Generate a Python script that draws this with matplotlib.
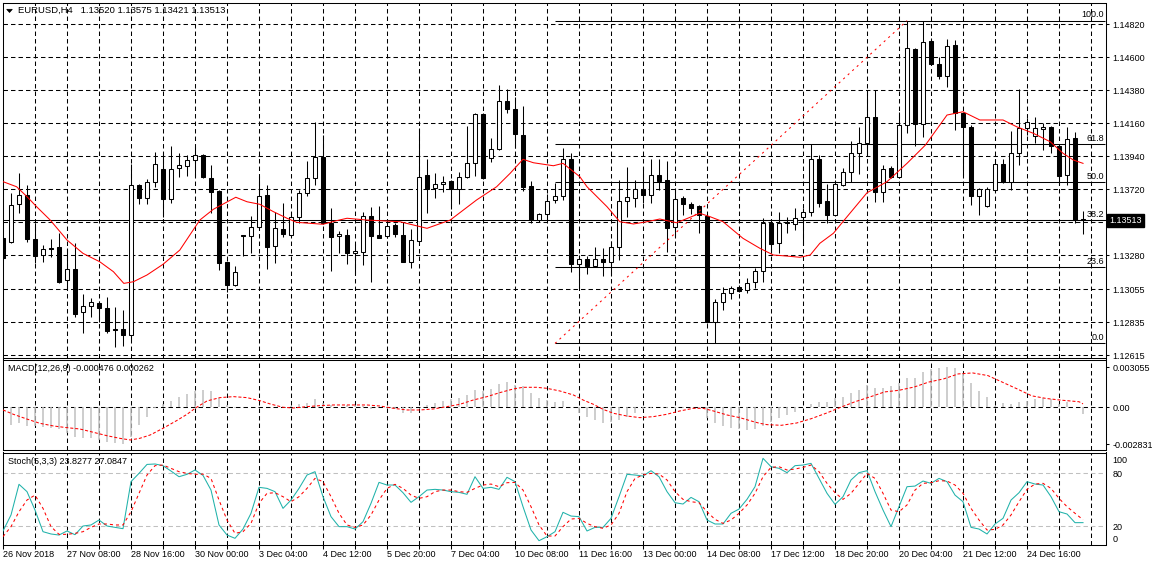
import matplotlib
matplotlib.use("Agg")
import matplotlib.pyplot as plt
from matplotlib.patches import Rectangle, Polygon

# EURUSD H4 candles (bar 0 = 26 Nov 2018 00:00)
opens = [1.13395, 1.13367, 1.13620, 1.13682, 1.13389, 1.13282, 1.13330, 1.13333, 1.13113, 1.13189,
         1.12900, 1.12942, 1.12962, 1.12927, 1.12789, 1.12791, 1.12747, 1.13747, 1.13664, 1.13771,
         1.13853, 1.13653, 1.13860, 1.13877, 1.13913, 1.13947, 1.13793, 1.13709, 1.13233, 1.13082,
         1.13415, 1.13411, 1.13467, 1.13682, 1.13340, 1.13455, 1.13415, 1.13533, 1.13693, 1.13793,
         1.13937, 1.13493, 1.13407, 1.13415, 1.13293, 1.13300, 1.13542, 1.13415, 1.13407, 1.13482,
         1.13415, 1.13233, 1.13375, 1.13815, 1.13727, 1.13753, 1.13775, 1.13722, 1.13800, 1.13897,
         1.14220, 1.13927, 1.13987, 1.14309, 1.14253, 1.14082, 1.13742, 1.13515, 1.13555, 1.13649,
         1.13677, 1.13920, 1.13220, 1.13253, 1.13211, 1.13253, 1.13233, 1.13337, 1.13644, 1.13660,
         1.13720, 1.13682, 1.13815, 1.13782, 1.13467, 1.13660, 1.13622, 1.13609, 1.13544, 1.12833,
         1.12967, 1.13027, 1.13071, 1.13049, 1.13100, 1.13175, 1.13497, 1.13360, 1.13500, 1.13489,
         1.13537, 1.13571, 1.13920, 1.13642, 1.13549, 1.13749, 1.13837, 1.13960, 1.14027, 1.14200,
         1.13704, 1.13860, 1.13804, 1.14147, 1.14655, 1.14153, 1.14709, 1.14553, 1.14477, 1.14682,
         1.14231, 1.14137, 1.13677, 1.13609, 1.13715, 1.13889, 1.13771, 1.13960, 1.14127, 1.14075,
         1.14120, 1.14135, 1.14011, 1.13815, 1.14060, 1.13520]
highs = [1.13402, 1.13693, 1.13829, 1.13749, 1.13493, 1.13349, 1.13387, 1.13427, 1.13327, 1.13364,
         1.13022, 1.12993, 1.12975, 1.13004, 1.12937, 1.12915, 1.13887, 1.13755, 1.13789, 1.13967,
         1.13960, 1.14009, 1.13964, 1.13949, 1.14004, 1.13955, 1.13882, 1.13715, 1.13240, 1.13211,
         1.13418, 1.13544, 1.13809, 1.13749, 1.13571, 1.13627, 1.13567, 1.13715, 1.13911, 1.14171,
         1.14082, 1.13593, 1.13442, 1.13453, 1.13355, 1.13571, 1.13604, 1.13611, 1.13504, 1.13493,
         1.13504, 1.13453, 1.14127, 1.13920, 1.13829, 1.13809, 1.13780, 1.13835, 1.14142, 1.14231,
         1.14227, 1.14060, 1.14415, 1.14387, 1.14333, 1.14275, 1.13775, 1.13562, 1.13689, 1.13764,
         1.13993, 1.13960, 1.13282, 1.13275, 1.13333, 1.13327, 1.13375, 1.13782, 1.13871, 1.13782,
         1.13871, 1.13920, 1.13920, 1.13909, 1.13727, 1.13675, 1.13637, 1.13615, 1.13555, 1.12987,
         1.13067, 1.13075, 1.13082, 1.13127, 1.13193, 1.13527, 1.13504, 1.13571, 1.13537, 1.13593,
         1.13595, 1.14020, 1.13949, 1.13755, 1.13782, 1.13864, 1.14044, 1.14137, 1.14382, 1.14382,
         1.13882, 1.13877, 1.14237, 1.14844, 1.14661, 1.14844, 1.14727, 1.14604, 1.14720, 1.14715,
         1.14237, 1.14149, 1.13729, 1.13737, 1.13920, 1.13920, 1.14109, 1.14387, 1.14195, 1.14200,
         1.14160, 1.14142, 1.14015, 1.14137, 1.14104, 1.13575]
lows = [1.13249, 1.13360, 1.13564, 1.13371, 1.13231, 1.13237, 1.13267, 1.13093, 1.13049, 1.12871,
        1.12764, 1.12871, 1.12837, 1.12764, 1.12667, 1.12677, 1.12720, 1.13620, 1.13620, 1.13737,
        1.13537, 1.13627, 1.13804, 1.13809, 1.13804, 1.13793, 1.13560, 1.13182, 1.13037, 1.13075,
        1.13275, 1.13297, 1.13462, 1.13187, 1.13227, 1.13404, 1.13409, 1.13495, 1.13675, 1.13749,
        1.13489, 1.13177, 1.13293, 1.13220, 1.13153, 1.13215, 1.13100, 1.13393, 1.13393, 1.13404,
        1.13235, 1.13197, 1.13370, 1.13564, 1.13664, 1.13700, 1.13589, 1.13620, 1.13795, 1.13811,
        1.13789, 1.13904, 1.13982, 1.14231, 1.13993, 1.13711, 1.13497, 1.13504, 1.13515, 1.13627,
        1.13649, 1.13171, 1.13060, 1.13155, 1.13204, 1.13144, 1.13144, 1.13249, 1.13537, 1.13600,
        1.13627, 1.13627, 1.13715, 1.13304, 1.13404, 1.13549, 1.13553, 1.13427, 1.12829, 1.12693,
        1.12915, 1.12989, 1.13037, 1.13027, 1.13060, 1.13104, 1.13293, 1.13293, 1.13427, 1.13449,
        1.13349, 1.13544, 1.13604, 1.13493, 1.13542, 1.13742, 1.13771, 1.13822, 1.13942, 1.13637,
        1.13637, 1.13795, 1.13795, 1.14097, 1.14011, 1.14071, 1.14549, 1.14455, 1.14404, 1.14115,
        1.13815, 1.13615, 1.13549, 1.13602, 1.13709, 1.13762, 1.13715, 1.13882, 1.14082, 1.14027,
        1.13982, 1.13960, 1.13749, 1.13749, 1.13493, 1.13421]
closes = [1.13262, 1.13615, 1.13682, 1.13389, 1.13277, 1.13320, 1.13325, 1.13104, 1.13189, 1.12891,
          1.12942, 1.12967, 1.12927, 1.12777, 1.12780, 1.12747, 1.13747, 1.13664, 1.13767, 1.13887,
          1.13653, 1.13853, 1.13880, 1.13913, 1.13947, 1.13800, 1.13704, 1.13227, 1.13082, 1.13167,
          1.13412, 1.13467, 1.13677, 1.13337, 1.13460, 1.13420, 1.13533, 1.13693, 1.13793, 1.13933,
          1.13493, 1.13404, 1.13420, 1.13293, 1.13309, 1.13542, 1.13411, 1.13397, 1.13477, 1.13420,
          1.13237, 1.13382, 1.13804, 1.13720, 1.13755, 1.13769, 1.13722, 1.13800, 1.13893, 1.14220,
          1.13793, 1.13987, 1.14309, 1.14253, 1.14087, 1.13737, 1.13515, 1.13555, 1.13644, 1.13675,
          1.13920, 1.13220, 1.13253, 1.13209, 1.13253, 1.13233, 1.13337, 1.13644, 1.13667, 1.13720,
          1.13682, 1.13815, 1.13775, 1.13460, 1.13653, 1.13620, 1.13597, 1.13549, 1.12833, 1.12967,
          1.13027, 1.13060, 1.13044, 1.13093, 1.13175, 1.13497, 1.13353, 1.13493, 1.13495, 1.13531,
          1.13571, 1.13924, 1.13627, 1.13549, 1.13755, 1.13837, 1.13964, 1.14027, 1.14200, 1.13704,
          1.13853, 1.13804, 1.14147, 1.14660, 1.14153, 1.14700, 1.14553, 1.14477, 1.14675, 1.14231,
          1.14137, 1.13677, 1.13720, 1.13720, 1.13889, 1.13769, 1.13960, 1.14131, 1.14171, 1.14127,
          1.14135, 1.14011, 1.13811, 1.14053, 1.13515, 1.13513]

# red moving average (bar position, price)
ma_pos = [0, 1.7, 3, 4.2, 5.9, 8, 10, 12.1, 13.8, 15.1, 16.3, 18, 20, 22.1, 24.6, 26.3, 29.1, 30.5,
          32.1, 33.8, 35.5, 36.7, 40, 41.7, 43, 45.5, 49.6, 53, 55.9, 59.2, 61.7, 63.4, 65, 66.3,
          68.8, 70, 72.1, 73, 75.5, 77.1, 78.8, 80.5, 82.1, 84.2, 87.1, 88.4, 90, 92.5, 94.6, 96.3,
          98, 99.6, 100.9, 102.1, 103.8, 105.5, 108, 110.5, 113, 115.3, 118, 120, 122.1, 125, 126.7,
          128.8, 130.9, 132.5, 133.8, 135]
ma_val = [1.13771, 1.13737, 1.13671, 1.13604, 1.13515, 1.13382, 1.13293, 1.13237, 1.13171, 1.13093,
          1.13104, 1.13149, 1.13220, 1.13315, 1.13515, 1.13587, 1.13667, 1.13637, 1.13620, 1.13571,
          1.13527, 1.13500, 1.13487, 1.13511, 1.13527, 1.13515, 1.13504, 1.13460, 1.13515, 1.13649,
          1.13737, 1.13827, 1.13920, 1.13897, 1.13877, 1.13893, 1.13804, 1.13737, 1.13604, 1.13504,
          1.13489, 1.13504, 1.13522, 1.13497, 1.13560, 1.13537, 1.13504, 1.13393, 1.13327, 1.13282,
          1.13275, 1.13267, 1.13282, 1.13360, 1.13427, 1.13537, 1.13697, 1.13771, 1.13893, 1.14015,
          1.14215, 1.14237, 1.14182, 1.14182, 1.14137, 1.14093, 1.14037, 1.13960, 1.13915, 1.13893]

price_labels = ['1.12615', '1.12835', '1.13055', '1.13280', '1.13500', '1.13720',
                '1.13940', '1.14160', '1.14380', '1.14600', '1.14820']
bid = 1.13513
fib_low, fib_high = 1.12693, 1.14844
fib_start, fib_end = 69, 113
fib_ratios = [0.0, 23.6, 38.2, 50.0, 61.8, 100.0]

macd_hist = [-0.00143, -0.00135, -0.00122, -0.00140, -0.00145, -0.00148, -0.00160, -0.00166, -0.00200, -0.00224,
             -0.00232, -0.00237, -0.00250, -0.00262, -0.00275, -0.002831, -0.00230, -0.00135, -0.00071, -0.00008,
             0.00025, 0.00048, 0.00076, 0.00102, 0.00125, 0.00132, 0.00127, 0.00069, 0.00020, -0.00005,
             0.00000, 0.00005, 0.00005, 0.00003, 0.00005, 0.00005, 0.00010, 0.00023, 0.00036, 0.00064,
             0.00035, 0.00018, 0.00005, 0.00018, 0.00010, 0.00013, -0.00013, 0.00000, -0.00005, -0.00013,
             -0.00041, -0.00041, 0.00005, 0.00018, 0.00031, 0.00048, 0.00060, 0.00074, 0.00094, 0.00132,
             0.00122, 0.00140, 0.00178, 0.00196, 0.00170, 0.00163, 0.00112, 0.00074, 0.00055, 0.00043,
             0.00051, 0.00003, -0.00046, -0.00071, -0.00097, -0.00117, -0.00110, -0.00097, -0.00071, -0.00046,
             -0.00015, -0.00003, 0.00003, -0.00003, -0.00005, -0.00005, 0.00000, -0.00005, -0.00080, -0.00117,
             -0.00143, -0.00155, -0.00168, -0.00173, -0.00166, -0.00140, -0.00110, -0.00079, -0.00059, -0.00033,
             0.00005, 0.00023, 0.00038, 0.00043, 0.00069, 0.00076, 0.00107, 0.00135, 0.00171, 0.00145,
             0.00150, 0.00166, 0.00183, 0.00227, 0.00227, 0.00273, 0.00293, 0.00303, 0.003055, 0.00298,
             0.00260, 0.00185, 0.00127, 0.00076, 0.00010, 0.00030, 0.00023, 0.00043, 0.00050, 0.00060,
             0.00068, 0.00063, 0.00028, 0.00043, 0.00005, -0.000476]
sig_pos = [0, 1.3, 2.96, 4.6, 6.3, 7.96, 9.6, 11.3, 12.96, 14.6, 15.9, 17.1, 18.4, 20, 21.7, 23,
           24.2, 25.5, 27.1, 28.8, 30.5, 32.1, 33.4, 35, 36.3, 38, 39.6, 41.3, 43.8, 45.5, 47.1,
           48.8, 50.5, 52.1, 53.8, 55.5, 57.1, 58.8, 60.5, 62.1, 63.8, 65, 66.7, 67.96, 69.6, 71.3,
           72.5, 73.8, 75, 76.3, 77.96, 79.6, 81.3, 82.96, 84.6, 86.3, 87.5, 88.8, 90.5, 92.1, 93.8,
           94.6, 95.5, 97.3, 99.2, 101, 102.9, 104.7, 106.5, 108.4, 110.2, 112, 113.9, 115.7, 117.6,
           119.4, 121.2, 123.1, 124.9, 126.7, 128.6, 130.4, 132.2, 134.5, 135]
sig_val = [-0.000204, -0.000535, -0.000891, -0.001222, -0.001426, -0.001554, -0.001656, -0.001910,
           -0.002165, -0.002369, -0.002496, -0.002369, -0.002114, -0.001605, -0.001019, -0.000535,
           0.000000, 0.000484, 0.000739, 0.000815, 0.000739, 0.000509, 0.000255, 0.000000, -0.000051,
           0.000051, 0.000127, 0.000178, 0.000178, 0.000178, 0.000100, -0.000076, -0.000204, -0.000204,
           -0.000127, 0.000051, 0.000229, 0.000560, 0.000815, 0.001121, 0.001401, 0.001528, 0.001528,
           0.001452, 0.001248, 0.000942, 0.000560, 0.000229, -0.000153, -0.000458, -0.000662, -0.000790,
           -0.000713, -0.000535, -0.000280, -0.000076, -0.000076, -0.000280, -0.000586, -0.000790,
           -0.001095, -0.001223, -0.001325, -0.001375, -0.001200, -0.000875, -0.000450, 0.000000,
           0.000425, 0.000800, 0.001175, 0.001300, 0.001550, 0.001925, 0.002175, 0.002550, 0.002625,
           0.002425, 0.001925, 0.001425, 0.000875, 0.000675, 0.000550, 0.000425, 0.000262]
macd_labels = ['-0.002831', '0.00', '0.003055']

stoch_main = [14.4, 32.5, 67.2, 58.9, 38.1, 13.6, 11, 9.8, 14.4, 10.2,
              20, 21.2, 26.8, 20, 18.5, 17, 70.2, 79.6, 89.7, 90.2,
              88.3, 82.2, 75.8, 78.5, 83.4, 77.3, 60.7, 21.2, 9.8, 6.1,
              16.6, 34.4, 63.8, 62.6, 58.9, 40, 49.4, 62.6, 77.7, 81.5,
              53.2, 30.6, 19.3, 19.3, 16.6, 24.9, 45.7, 69.4, 66.4, 66.4,
              57.7, 46.8, 53.2, 60.7, 61.5, 60.7, 58.9, 58.1, 55.9, 75.8,
              62.6, 63.8, 61.5, 75.1, 70.2, 41.9, 15.5, 3.4, 7.9, 13.6,
              35.5, 31.3, 30.6, 14.4, 18.5, 18.5, 28.7, 53.2, 78.5, 77.7,
              76.6, 82.6, 75.8, 58.9, 46.4, 44.9, 52.4, 47.5, 26.8, 22.3,
              22.3, 34.4, 39.2, 50.2, 64.5, 96.6, 87.1, 85.3, 80.4, 88.3,
              89, 90.9, 73.9, 57, 44.5, 53.2, 72.1, 80.4, 82.6, 58.9,
              38.1, 19.3, 41.9, 64.5, 65.2, 70.9, 68.3, 73.9, 70.2, 55,
              47.5, 18.5, 16.6, 11, 22.3, 28.7, 49.4, 57.7, 70.2, 67.5,
              66.4, 53.2, 36.2, 33.6, 23.8, 23.83]
stoch_sig = [8, 19.3, 36.2, 49.4, 55, 40, 19.3, 10.6, 10.6, 11.7,
             13.6, 18.5, 22.3, 22.3, 21.2, 21.2, 36.2, 57, 77.7, 88.3,
             89, 85.3, 81.5, 79.6, 78.5, 78.8, 73.9, 49.4, 26.8, 11.7,
             13.6, 23, 45.7, 57, 57.7, 53.2, 47.5, 53.2, 62.6, 73.9,
             70.2, 53.2, 34.4, 21.2, 18.5, 21.2, 32.5, 49.4, 62.6, 67.2,
             62.6, 55, 51.3, 53.2, 58.9, 60.7, 60.7, 58.9, 58.1, 62.6,
             66.4, 67.5, 64.5, 69, 69.4, 60.7, 41.9, 21.2, 8.7, 8.7,
             19.3, 27.9, 28.7, 23, 19.3, 17.4, 21.2, 34.4, 58.9, 73.9,
             77.7, 79.6, 78.8, 72.1, 58.9, 50.2, 47.5, 46.4, 36.2, 27.5,
             23, 26.8, 34.4, 43.8, 57, 75.8, 86.4, 87.1, 83.4, 84.5,
             86.4, 89, 81.5, 68.3, 57.7, 50.2, 57, 68.3, 79.6, 73.9,
             57, 38.1, 36.2, 43.8, 60.7, 68.3, 69, 71.3, 70.9, 66.4,
             57, 40, 26.8, 15.5, 16.2, 21.2, 32.5, 47.5, 61.5, 67.5,
             68.3, 62.6, 51.3, 41.9, 34.4, 27.08]

date_labels = ['26 Nov 2018', '27 Nov 08:00', '28 Nov 16:00', '30 Nov 00:00', '3 Dec 04:00',
               '4 Dec 12:00', '5 Dec 20:00', '7 Dec 04:00', '10 Dec 08:00', '11 Dec 16:00',
               '13 Dec 00:00', '14 Dec 08:00', '17 Dec 12:00', '18 Dec 20:00', '20 Dec 04:00',
               '21 Dec 12:00', '24 Dec 16:00']

W, H = 1152, 566
plt.rcParams['font.family'] = ['Liberation Sans', 'DejaVu Sans']
plt.rcParams['font.size'] = 6.5
plt.rcParams['lines.scale_dashes'] = False
GRID = (0, (3.2, 2.2))
LW = 0.75


def box(x0, y0, x1, y1):
    # pixel rectangle (top-left origin) -> figure fraction
    return [x0 / W, 1 - y1 / H, (x1 - x0) / W, (y1 - y0) / H]


def ftext(x, y, s, **kw):
    fig.text(x / W, 1 - y / H, s, va='center', ha='left', **kw)


fig = plt.figure(figsize=(W / 100, H / 100), dpi=100)
ax = fig.add_axes(box(2.5, 2.5, 1105.5, 357.5))
axm = fig.add_axes(box(2.5, 359.5, 1105.5, 450))
axs = fig.add_axes(box(2.5, 452.5, 1105.5, 545))

n = len(closes)
xmin, xmax = -0.0625, 137.81
for a in (ax, axm, axs):
    a.set_xlim(xmin, xmax)
    for s in a.spines.values():
        s.set_linewidth(LW)
    for g in range(4, 137, 4):
        a.axvline(g, color='k', lw=LW, linestyle=GRID, zorder=0)
    a.yaxis.tick_right()
    a.tick_params(axis='y', length=2.2, width=LW, pad=2.9, labelsize=6.5)

# ---- price panel ----
ax.set_ylim(1.12599, 1.14965)
price_ticks = [float(t) for t in price_labels]
for p in price_ticks:
    ax.axhline(p, color='k', lw=LW, linestyle=GRID, zorder=0)
ax.set_yticks(price_ticks)
ax.set_yticklabels(['' if t == '1.13500' else t for t in price_labels])
ax.tick_params(axis='x', bottom=False, labelbottom=False)

ax.vlines(range(n), lows, highs, color='k', lw=LW, zorder=2)
for i in range(n):
    o, c = opens[i], closes[i]
    ax.add_patch(Rectangle((i - 0.25, min(o, c)), 0.5, abs(c - o),
                           facecolor='white' if c > o else 'black',
                           edgecolor='black', lw=LW, zorder=3))

ax.plot(ma_pos, ma_val, color='red', lw=LW, zorder=4)

ax.axhline(bid, color='k', lw=LW, zorder=1)
ax.plot([fib_start, fib_end], [fib_low, fib_high], color='red', lw=LW,
        linestyle=(0, (1.5, 2.9)), zorder=4)
for r in fib_ratios:
    lvl = fib_low + (fib_high - fib_low) * r / 100
    ax.hlines(lvl, fib_start, xmax, color='k', lw=LW, zorder=1)
    ax.annotate(f'{r:.1f}', xy=(xmax, lvl), xytext=(-1.2, 2.4), textcoords='offset points',
                ha='right', va='baseline', fontsize=6.5, zorder=5)

ax.annotate('1.13513', xy=(1, bid), xycoords=('axes fraction', 'data'),
            xytext=(3.0, 0), textcoords='offset points', ha='left', va='center',
            color='white', fontsize=6.5, annotation_clip=False, zorder=10,
            bbox=dict(boxstyle='square,pad=0.25', fc='black', ec='black'))

# ---- MACD panel ----
axm.set_ylim(-0.003262, 0.003652)
axm.axhline(0, color='k', lw=LW, linestyle=GRID, zorder=0)
axm.vlines(range(n), 0, macd_hist, color='#C0C0C0', lw=1.1, zorder=2)
axm.plot(sig_pos, sig_val, color='red', lw=LW, linestyle=(0, (2.2, 1.4)), zorder=3)
axm.set_yticks([float(t) for t in macd_labels])
axm.set_yticklabels(macd_labels)
axm.tick_params(axis='x', bottom=False, labelbottom=False)

# ---- Stochastic panel ----
axs.set_ylim(-1.47, 103.2)
for lv in (20, 80):
    axs.axhline(lv, color='#C0C0C0', lw=LW, linestyle=GRID, zorder=0)
axs.plot(range(n), stoch_main, color='#20B2AA', lw=LW, zorder=3)
axs.plot(range(n), stoch_sig, color='red', lw=LW, linestyle=(0, (2.2, 2.2)), zorder=3)
axs.set_yticks([6, 20, 80, 95.5])
axs.set_yticklabels(['0', '20', '80', '100'])
axs.tick_params(axis='y', length=0, pad=5)
axs.set_xticks(range(0, 8 * len(date_labels), 8))
axs.set_xticklabels(date_labels, ha='left')
axs.set_xticks(range(4, 137, 8), minor=True)
axs.tick_params(axis='x', which='both', length=2.9, width=LW, pad=1, labelsize=6.5)

# ---- window captions ----
fig.patches.append(Polygon([(6.7 / W, 1 - 9.3 / H), (12.3 / W, 1 - 9.3 / H), (9.5 / W, 1 - 12.5 / H)],
                           closed=True, transform=fig.transFigure, fc='black', ec='black', lw=0.5))
ftext(18, 10.5, 'EURUSD,H4   1.13520 1.13575 1.13421 1.13513', fontsize=6.8)
ftext(8, 368.3, 'MACD(12,26,9) -0.000476 0.000262')
ftext(8, 461.5, 'Stoch(5,3,3) 23.8277 27.0847')

fig.savefig('out.png', dpi=100)
